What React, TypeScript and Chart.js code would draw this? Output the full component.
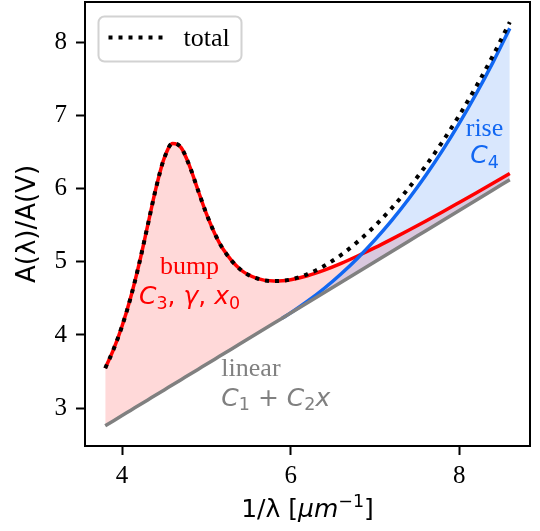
import React, { useEffect, useRef } from "react";
import { Chart, registerables } from "chart.js";

Chart.register(...registerables);

// FM90-style extinction curve and its components, sampled along 1/λ [µm⁻¹]
const xs = [
  3.8, 3.9, 4.0, 4.1, 4.2, 4.3, 4.4, 4.5, 4.6, 4.7, 4.8, 4.9, 5.0, 5.1, 5.2,
  5.4, 5.6, 5.8, 5.9, 6.0, 6.2, 6.4, 6.6, 6.8, 7.0, 7.2, 7.4, 7.6, 7.8, 8.0,
  8.2, 8.4, 8.6,
];

// linear background C1 + C2 x
const linearCurve = [
  2.76, 2.83, 2.9, 2.97, 3.04, 3.11, 3.18, 3.25, 3.32, 3.39, 3.46, 3.53, 3.6,
  3.67, 3.74, 3.88, 4.02, 4.16, 4.23, 4.3, 4.44, 4.58, 4.72, 4.86, 5.0, 5.14,
  5.28, 5.42, 5.56, 5.7, 5.84, 5.98, 6.12,
];

// linear + 2175 Å bump
const bumpCurve = [
  3.546, 3.807, 4.122, 4.504, 4.96, 5.475, 5.995, 6.414, 6.616, 6.559, 6.31,
  5.98, 5.657, 5.384, 5.17, 4.897, 4.772, 4.736, 4.74, 4.755, 4.809, 4.886,
  4.978, 5.082, 5.192, 5.309, 5.43, 5.554, 5.68, 5.809, 5.939, 6.071, 6.204,
];

// linear + far-UV rise (only non-zero beyond x = 5.9)
const riseXs = [5.9, 6.0, 6.2, 6.4, 6.6, 6.8, 7.0, 7.2, 7.4, 7.6, 7.8, 8.0, 8.2, 8.4, 8.6];
const riseCurve = [
  4.23, 4.302, 4.461, 4.638, 4.836, 5.056, 5.298, 5.564, 5.856, 6.173, 6.517,
  6.889, 7.291, 7.723, 8.187,
];

// sum of all three components
const totalCurve = [
  3.546, 3.807, 4.122, 4.504, 4.96, 5.475, 5.995, 6.414, 6.616, 6.559, 6.31,
  5.98, 5.657, 5.384, 5.17, 4.897, 4.772, 4.736, 4.74, 4.757, 4.83, 4.944,
  5.094, 5.278, 5.49, 5.733, 6.006, 6.306, 6.637, 6.998, 7.39, 7.814, 8.271,
];

const xTicks = [4, 6, 8];
const yTicks = [3, 4, 5, 6, 7, 8];

const SERIF = '"Liberation Serif", "Times New Roman", serif';
const SANS = '"DejaVu Sans", "Noto Sans", sans-serif';
const FS = 26; // serif text size
const MS = 25; // math text size
const SUB = MS * 0.7;

const RED = "#ff0000";
const BLUE = "#1167f2";
const GRAY = "#808080";

type Run = { t: string; font: string; dy?: number };

const serif = (t: string): Run => ({ t, font: `${FS}px ${SERIF}` });
const mi = (t: string): Run => ({ t, font: `italic ${MS}px ${SANS}` });
const mr = (t: string, size = MS): Run => ({ t, font: `${size}px ${SANS}` });
const sub = (t: string): Run => ({ t, font: `${SUB}px ${SANS}`, dy: 4.5 });
const sup = (t: string): Run => ({ t, font: `${SUB}px ${SANS}`, dy: -10 });

const annotations: {
  x: number;
  y: number;
  align: "left" | "center";
  color: string;
  gap: number;
  lines: Run[][];
}[] = [
  {
    x: 4.8,
    y: 4.83,
    align: "center",
    color: RED,
    gap: 30,
    lines: [
      [serif("bump")],
      [mi("C"), sub("3"), mr(", "), mi("γ"), mr(", "), mi("x"), sub("0")],
    ],
  },
  {
    x: 5.178,
    y: 3.443,
    align: "left",
    color: GRAY,
    gap: 30,
    lines: [
      [serif("linear")],
      [mi("C"), sub("1"), mr(" + "), mi("C"), sub("2"), mi("x")],
    ],
  },
  {
    x: 8.3,
    y: 6.713,
    align: "center",
    color: BLUE,
    gap: 27,
    lines: [[serif("rise")], [mi("C"), sub("4")]],
  },
];

function drawRuns(
  ctx: CanvasRenderingContext2D,
  runs: Run[],
  x: number,
  y: number,
  align: "left" | "center"
) {
  let w = 0;
  const widths = runs.map((r) => {
    ctx.font = r.font;
    const m = ctx.measureText(r.t).width;
    w += m;
    return m;
  });
  let cx = align === "center" ? x - w / 2 : x;
  ctx.textAlign = "left";
  ctx.textBaseline = "alphabetic";
  runs.forEach((r, i) => {
    ctx.font = r.font;
    ctx.fillText(r.t, cx, y + (r.dy || 0));
    cx += widths[i];
  });
  return w;
}

const pts = (xv: number[], yv: number[]) => xv.map((x, i) => ({ x, y: yv[i] }));

const decorations = {
  id: "decorations",
  afterDraw(chart: Chart) {
    const { ctx, chartArea, scales } = chart;
    const xs_ = scales.x;
    const ys_ = scales.y;
    ctx.save();

    // top and right spines
    ctx.strokeStyle = "#000";
    ctx.lineWidth = 2;
    ctx.beginPath();
    ctx.moveTo(chartArea.left, chartArea.top);
    ctx.lineTo(chartArea.right, chartArea.top);
    ctx.lineTo(chartArea.right, chartArea.bottom);
    ctx.stroke();

    // component labels
    for (const a of annotations) {
      ctx.fillStyle = a.color;
      const px = xs_.getPixelForValue(a.x);
      const py = ys_.getPixelForValue(a.y);
      a.lines.forEach((line, i) => drawRuns(ctx, line, px, py + i * a.gap, a.align));
    }

    // legend
    const lx = chartArea.left + 13.5;
    const ly = chartArea.top + 14.5;
    ctx.beginPath();
    ctx.roundRect(lx, ly, 143, 45, 6);
    ctx.fillStyle = "rgba(255,255,255,0.8)";
    ctx.fill();
    ctx.strokeStyle = "#d2d2d2";
    ctx.lineWidth = 2;
    ctx.stroke();
    ctx.beginPath();
    ctx.setLineDash([4, 6]);
    ctx.lineCap = "butt";
    ctx.lineWidth = 4;
    ctx.strokeStyle = "#000";
    ctx.moveTo(lx + 10, ly + 21);
    ctx.lineTo(lx + 66, ly + 21);
    ctx.stroke();
    ctx.setLineDash([]);
    ctx.fillStyle = "#000";
    drawRuns(ctx, [serif("total")], lx + 85, ly + 29, "left");

    // axis titles
    const midX = (chartArea.left + chartArea.right) / 2;
    drawRuns(
      ctx,
      [mr("1/λ ["), mi("μm"), sup("−1"), mr("]")],
      midX,
      517,
      "center"
    );
    ctx.translate(35, (chartArea.top + chartArea.bottom) / 2);
    ctx.rotate(-Math.PI / 2);
    drawRuns(ctx, [mr("A(λ)/A(V)", 26)], 0, 0, "center");
    ctx.restore();
  },
};

export default function App() {
  const ref = useRef<HTMLCanvasElement>(null);

  useEffect(() => {
    const tickFont = { family: SERIF, size: 25 };
    const axisCommon = {
      type: "linear" as const,
      grid: {
        display: true,
        drawOnChartArea: false,
        drawTicks: true,
        tickLength: 9,
        tickWidth: 2,
        tickColor: "#000",
      },
      border: { display: true, color: "#000", width: 2 },
    };
    const line = {
      pointRadius: 0,
      pointHoverRadius: 0,
      cubicInterpolationMode: "monotone" as const,
    };

    const chart = new Chart(ref.current!, {
      type: "line",
      data: {
        datasets: [
          {
            label: "total",
            data: pts(xs, totalCurve),
            borderColor: "#000",
            borderWidth: 4,
            borderDash: [4, 6],
            borderCapStyle: "butt",
            fill: false,
            ...line,
          },
          {
            label: "linear",
            data: pts(xs, linearCurve),
            borderColor: GRAY,
            borderWidth: 3.5,
            fill: false,
            ...line,
          },
          {
            label: "rise",
            data: pts(riseXs, riseCurve),
            borderColor: BLUE,
            borderWidth: 3.5,
            backgroundColor: "rgba(17,103,242,0.16)",
            fill: 1,
            ...line,
          },
          {
            label: "bump",
            data: pts(xs, bumpCurve),
            borderColor: RED,
            borderWidth: 3.5,
            backgroundColor: "rgba(255,0,0,0.15)",
            fill: 1,
            ...line,
          },
        ],
      },
      options: {
        responsive: false,
        animation: false,
        devicePixelRatio: 1,
        layout: { padding: { top: 2, right: 10, left: 0, bottom: 0 } },
        plugins: {
          legend: { display: false },
          tooltip: { enabled: false },
          filler: { propagate: false, drawTime: "beforeDatasetsDraw" },
        },
        scales: {
          x: {
            ...axisCommon,
            min: 3.56,
            max: 8.84,
            afterBuildTicks: (s: any) => {
              s.ticks = xTicks.map((v) => ({ value: v }));
            },
            afterFit: (s: any) => {
              s.height = 85;
            },
            ticks: {
              font: tickFont,
              color: "#000",
              padding: 6,
              maxRotation: 0,
              callback: (v: any) => String(v),
            },
          },
          y: {
            ...axisCommon,
            min: 2.484,
            max: 8.547,
            afterBuildTicks: (s: any) => {
              s.ticks = yTicks.map((v) => ({ value: v }));
            },
            afterFit: (s: any) => {
              s.width = 85;
              s.paddingTop = 0;
              s.paddingBottom = 0;
            },
            ticks: {
              font: tickFont,
              color: "#000",
              padding: 9,
              callback: (v: any) => String(v),
            },
          },
        },
      },
      plugins: [decorations],
    });
    return () => chart.destroy();
  }, []);

  return (
    <div
      style={{
        position: "absolute",
        left: 0,
        top: 0,
        width: 540,
        height: 531,
        background: "#fff",
      }}
    >
      <canvas
        ref={ref}
        width={540}
        height={531}
        style={{ display: "block", width: 540, height: 531 }}
      />
    </div>
  );
}
